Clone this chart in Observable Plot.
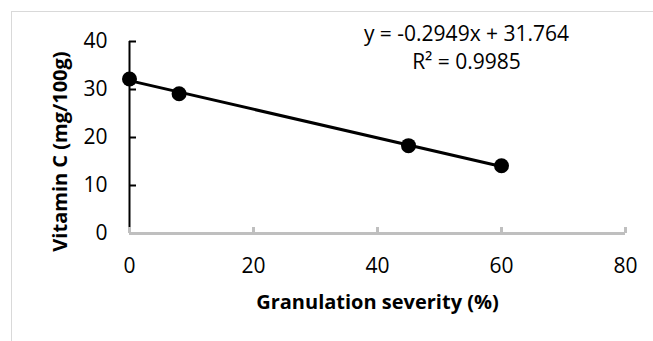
<!DOCTYPE html>
<html><head><meta charset="utf-8">
<script src="https://cdn.jsdelivr.net/npm/d3@7"></script>
<script src="https://cdn.jsdelivr.net/npm/@observablehq/plot@0.6"></script>
<style>
body{margin:0;background:#fff;}
#wrap{position:relative;width:653px;height:341px;overflow:hidden;font-family:"Open Sans",sans-serif;}
#border{position:absolute;left:11px;top:11px;width:700px;height:400px;border:1px solid #d9d9d9;}
#wrap svg{position:absolute;left:0;top:0;}
</style></head><body><div id="wrap"><div id="border"></div></div>
<script>
const severity = [0, 8, 45, 60];
const vitaminC = [32.2, 29.1, 18.3, 14.1];
const xTicks = [0, 20, 40, 60, 80];
const yTicks = [0, 10, 20, 30, 40];
const xLabel = "Granulation severity (%)";
const yLabel = "Vitamin C (mg/100g)";
const equation = "y = -0.2949x + 31.764";
const rSquared = "R² = 0.9985";

const data = severity.map((x, i) => ({x, y: vitaminC[i]}));

const chart = Plot.plot({
  width: 653, height: 341,
  marginLeft: 129, marginRight: 28, marginTop: 41, marginBottom: 108,
  style: {fontFamily: '"Open Sans", sans-serif', background: "transparent", color: "#000", overflow: "visible"},
  x: {domain: [0, 80]},
  y: {domain: [0, 40]},
  marks: [
    Plot.ruleX([0], {stroke: "#000", strokeWidth: 2}),
    Plot.tickY(yTicks, {y: d => d, stroke: "#000", strokeWidth: 2, insetRight: 489}),
    Plot.ruleY([0], {stroke: "#bfbfbf", strokeWidth: 3}),
    Plot.tickX(xTicks, {x: d => d, stroke: "#bfbfbf", strokeWidth: 3, insetTop: 186}),
    Plot.axisX(xTicks, {tickSize: 0, tickPadding: 25, fontSize: 21, label: null}),
    Plot.axisY(yTicks, {tickSize: 0, tickPadding: 22, fontSize: 21, label: null}),
    Plot.linearRegressionY(data, {x: "x", y: "y", ci: 0, stroke: "#000", strokeWidth: 3}),
    Plot.dot(data, {x: "x", y: "y", r: 7.5, fill: "#000"}),
    Plot.text([xLabel], {frameAnchor: "bottom", dy: 69, lineAnchor: "middle", textAnchor: "middle", fontSize: 20, fontWeight: "bold"}),
    Plot.text([yLabel], {frameAnchor: "left", dx: -69, dy: 14, rotate: -90, lineAnchor: "middle", textAnchor: "middle", fontSize: 20, fontWeight: "bold"}),
    Plot.text([equation + "\n" + rSquared], {frameAnchor: "top", dx: 89, dy: 5, lineAnchor: "middle", textAnchor: "middle", fontSize: 21, lineHeight: 1.33})
  ]
});
document.getElementById("wrap").appendChild(chart);
</script>
</body></html>
